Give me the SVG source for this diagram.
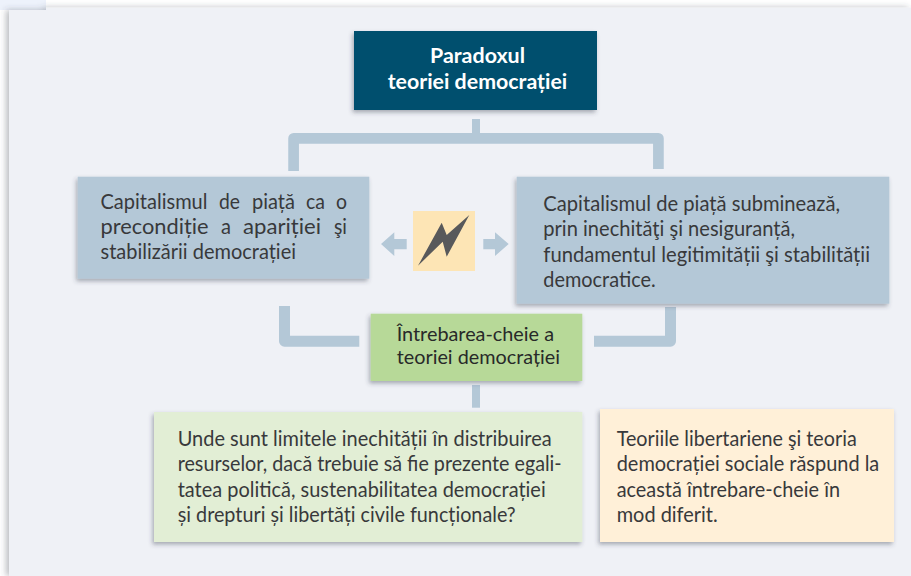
<svg xmlns="http://www.w3.org/2000/svg" width="911" height="576" viewBox="0 0 911 576">
<style>
text{font-family:"Lato","Open Sans","Liberation Sans",sans-serif;font-size:20.500px;fill:#38393b}
.h{fill:#fff;font-weight:700;font-size:21px}
.g{fill:#282929;font-size:18.800px}
.c{fill:none;stroke:#b4c8d7;stroke-linejoin:round}
.a{fill:#b4c8d7}
.s{filter:url(#sh)}
</style>
<defs>
<filter id="sh" x="-10%" y="-15%" width="120%" height="130%"><feDropShadow dx="-1.5" dy="2.5" stdDeviation="2" flood-color="#3a4050" flood-opacity=".4"/></filter>
<filter id="pn" x="-3%" y="-3%" width="106%" height="106%"><feDropShadow dx="-3" dy="0" stdDeviation="3" flood-color="#3a4050" flood-opacity=".35"/></filter>
</defs>
<rect width="911" height="576" fill="#fff"/>
<rect width="46" height="10" fill="#edf2fb"/>
<path d="M9 10H46V7.500H911V576H9Z" fill="#eff1f6" filter="url(#pn)"/>
<g id="connectors">
<path class="c" stroke-width="10.700" d="M293.600 171V138.300H658.400V169"/>
<path class="c" stroke-width="8" d="M476 119V134"/>
<path class="c" stroke-width="11" d="M284.500 306V341.200H359.300"/>
<path class="c" stroke-width="11" d="M670.500 307V341.200H594"/>
<path class="c" stroke-width="8" d="M476 385V407.700"/>
<path class="a" d="M381 244L394.300 232.300V239H406.700V249.300H394.300V256Z"/>
<path class="a" d="M508.700 244L495 232.300V239H483.300V249.300H495V256Z"/>
</g>
<g id="node-title">
<rect class="s" x="354" y="31" width="243" height="79" fill="#00506e"/>
<text class="h" x="430" y="62.700" textLength="95" lengthAdjust="spacingAndGlyphs">Paradoxul</text>
<text class="h" x="387.700" y="89" textLength="179.600" lengthAdjust="spacingAndGlyphs">teoriei democrației</text>
</g>
<g id="node-left">
<rect class="s" x="77.700" y="176.700" width="291.600" height="102" fill="#b4c8d7"/>
<text y="209"><tspan x="100.500" textLength="107" lengthAdjust="spacingAndGlyphs">Capitalismul</tspan> <tspan x="219" textLength="21" lengthAdjust="spacingAndGlyphs">de</tspan> <tspan x="252" textLength="43" lengthAdjust="spacingAndGlyphs">piață</tspan> <tspan x="306" textLength="19" lengthAdjust="spacingAndGlyphs">ca</tspan> <tspan x="336" textLength="11" lengthAdjust="spacingAndGlyphs">o</tspan></text>
<text y="234"><tspan x="100.500" textLength="108" lengthAdjust="spacingAndGlyphs">precondiție</tspan> <tspan x="221" textLength="10" lengthAdjust="spacingAndGlyphs">a</tspan> <tspan x="243" textLength="78" lengthAdjust="spacingAndGlyphs">apariției</tspan> <tspan x="334" textLength="13" lengthAdjust="spacingAndGlyphs">şi</tspan></text>
<text x="100.500" y="259" textLength="195.500" lengthAdjust="spacingAndGlyphs">stabilizării democrației</text>
</g>
<g id="node-conflict">
<rect x="413" y="211" width="62" height="60" fill="#fde5b5"/>
<path d="M418 265.700L441.700 222.700L446.700 235L469.300 215L446.700 256.700L442.700 241.700Z" fill="#58595b"/>
</g>
<g id="node-right">
<rect class="s" x="516.700" y="176.700" width="372.600" height="127" fill="#b4c8d7"/>
<text x="543.300" y="211" textLength="296.700" lengthAdjust="spacingAndGlyphs">Capitalismul de piață subminează,</text>
<text x="543.300" y="236" textLength="251.700" lengthAdjust="spacingAndGlyphs">prin inechităţi şi nesiguranță,</text>
<text x="543.300" y="262" textLength="326.700" lengthAdjust="spacingAndGlyphs">fundamentul legitimității şi stabilității</text>
<text x="543.300" y="287" textLength="112.400" lengthAdjust="spacingAndGlyphs">democratice.</text>
</g>
<g id="node-question">
<rect class="s" x="370.700" y="313.700" width="211.600" height="67.300" fill="#b7d998"/>
<text class="g" x="396.700" y="341" textLength="157.300" lengthAdjust="spacingAndGlyphs">Întrebarea-cheie a</text>
<text class="g" x="396.700" y="363.700" textLength="163.300" lengthAdjust="spacingAndGlyphs">teoriei democrației</text>
</g>
<g id="node-limits">
<rect class="s" x="154" y="412" width="428.300" height="130" fill="#e2eed5"/>
<text x="177.700" y="446" textLength="374" lengthAdjust="spacingAndGlyphs">Unde sunt limitele inechității în distribuirea</text>
<text x="177.700" y="471" textLength="384" lengthAdjust="spacingAndGlyphs">resurselor, dacă trebuie să fie prezente egali-</text>
<text x="177.700" y="497" textLength="368" lengthAdjust="spacingAndGlyphs">tatea politică, sustenabilitatea democrației</text>
<text x="177.700" y="522" textLength="338" lengthAdjust="spacingAndGlyphs">și drepturi și libertăți civile funcționale?</text>
</g>
<g id="node-theories">
<rect class="s" x="600" y="409" width="294" height="133" fill="#fff0d8"/>
<text x="616.700" y="446" textLength="240" lengthAdjust="spacingAndGlyphs">Teoriile libertariene şi teoria</text>
<text x="616.700" y="471" textLength="262.600" lengthAdjust="spacingAndGlyphs">democrației sociale răspund la</text>
<text x="616.700" y="497" textLength="223.300" lengthAdjust="spacingAndGlyphs">această întrebare-cheie în</text>
<text x="616.700" y="522" textLength="101" lengthAdjust="spacingAndGlyphs">mod diferit.</text>
</g>
</svg>
